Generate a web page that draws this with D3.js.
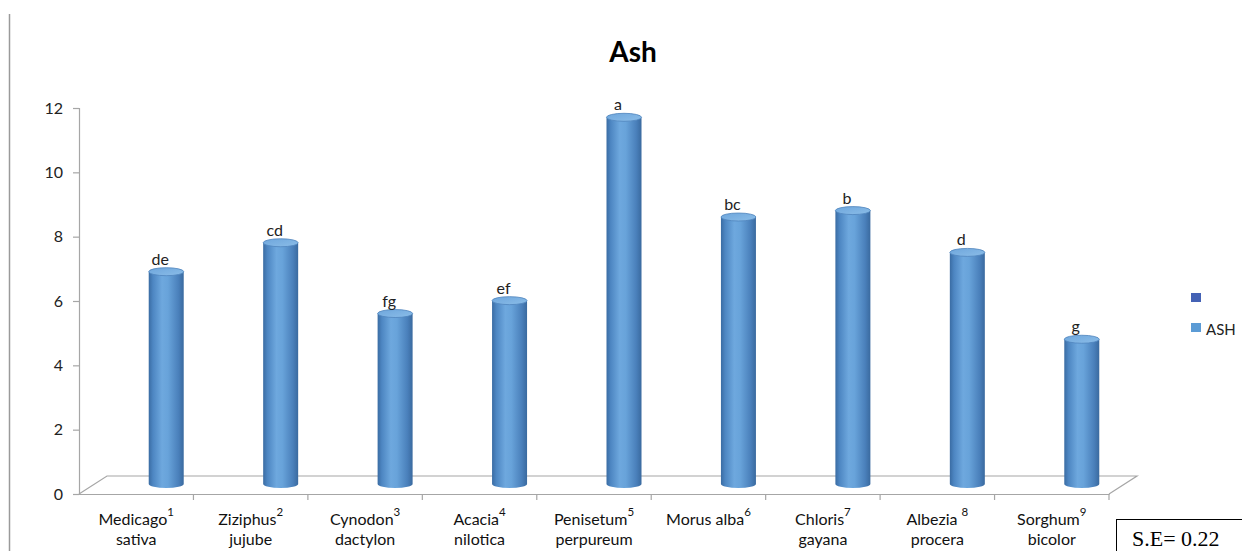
<!DOCTYPE html>
<html>
<head>
<meta charset="utf-8">
<script src="https://cdn.jsdelivr.net/npm/d3@7"></script>
<style>
  html, body { margin: 0; padding: 0; background: #fff; }
  svg { display: block; }
</style>
</head>
<body>
<svg id="chart" width="1242" height="551"></svg>
<script>
// Ash content by forage species
const species = ["Medicago sativa", "Ziziphus jujube", "Cynodon dactylon", "Acacia nilotica",
  "Penisetum perpureum", "Morus alba", "Chloris gayana", "Albezia procera", "Sorghum bicolor"];
const labelLine1 = ["Medicago", "Ziziphus", "Cynodon", "Acacia", "Penisetum", "Morus alba", "Chloris", "Albezia ", "Sorghum"];
const labelLine2 = ["sativa", "jujube", "dactylon", "nilotica", "perpureum", "", "gayana", "procera", "bicolor"];
const speciesNo = ["1", "2", "3", "4", "5", "6", "7", "8", "9"];
const ashValues = [6.6, 7.5, 5.3, 5.7, 11.4, 8.3, 8.5, 7.2, 4.5];
const groupLetters = ["de", "cd", "fg", "ef", "a", "bc", "b", "d", "g"];
const yTicks = [0, 2, 4, 6, 8, 10, 12];
const seTextValue = "S.E= 0.22";

const svg = d3.select("#chart");
const font = "Lato, 'Open Sans', 'Liberation Sans', sans-serif";

const x = d3.scaleBand().domain(species).range([79, 1109]).padding(0);
const y = d3.scaleLinear().domain([0, 12]).range([494, 108]);

// 3-D floor depth offset
const depthX = 28, depthY = 18;
// cylinders sit part-way back on the floor
const barShiftX = 30, barShiftY = 10;
const rx = 17.5, ry = 4;

// left page rule
svg.append("line").attr("x1", 9.5).attr("x2", 9.5).attr("y1", 14).attr("y2", 551)
  .attr("stroke", "#9a9a9a").attr("stroke-width", 1.5);

// title
svg.append("text").attr("x", 633).attr("y", 62).attr("text-anchor", "middle")
  .attr("font-family", font).attr("font-weight", "bold").attr("font-size", 28)
  .attr("fill", "#000").text("Ash");

// floor outline
const x0 = x.range()[0], x1 = x.range()[1], yb = y(0);
svg.append("path")
  .attr("d", `M${x0},${yb} L${x0 + depthX},${yb - depthY} L${x1 + depthX},${yb - depthY} L${x1},${yb}`)
  .attr("fill", "none").attr("stroke", "#a6a6a6").attr("stroke-width", 1.2);

// value axis
const yAxis = svg.append("g").attr("transform", `translate(${x0},0)`)
  .call(d3.axisLeft(y).tickValues(yTicks).tickSize(6).tickPadding(10).tickFormat(d3.format("d")));
yAxis.select(".domain").attr("stroke", "#a6a6a6").attr("stroke-width", 1.2);
yAxis.selectAll(".tick line").attr("stroke", "#a6a6a6").attr("stroke-width", 1.2);
yAxis.selectAll(".tick text").attr("font-family", font).attr("font-size", 16).attr("fill", "#222");

// category axis
const xAxis = svg.append("g").attr("transform", `translate(0,${yb})`)
  .call(d3.axisBottom(x).tickValues([]).tickSizeOuter(0));
xAxis.select(".domain").attr("stroke", "#a6a6a6").attr("stroke-width", 1.2);
const boundaries = species.map(s => x(s) + x.bandwidth());
svg.append("g").selectAll("line").data(boundaries).join("line")
  .attr("x1", d => d).attr("x2", d => d).attr("y1", yb).attr("y2", yb + 6)
  .attr("stroke", "#a6a6a6").attr("stroke-width", 1.2);

// category labels with species numbers
const labels = svg.append("g").selectAll("g").data(species).join("g");
labels.each(function (s, i) {
  const g = d3.select(this);
  const cx = x(s) + x.bandwidth() / 2;
  const t1 = g.append("text").attr("x", cx).attr("y", 525).attr("text-anchor", "middle")
    .attr("font-family", font).attr("font-size", 16).attr("fill", "#111");
  t1.append("tspan").text(labelLine1[i]);
  t1.append("tspan").attr("dy", -9).attr("font-size", 11.5).text(speciesNo[i]);
  if (labelLine2[i]) {
    g.append("text").attr("x", cx).attr("y", 545).attr("text-anchor", "middle")
      .attr("font-family", font).attr("font-size", 16).attr("fill", "#111").text(labelLine2[i]);
  }
});

// cylinder shading
const defs = svg.append("defs");
const bodyGrad = defs.append("linearGradient").attr("id", "cylBody").attr("x1", "0").attr("x2", "1").attr("y1", "0").attr("y2", "0");
[["0%", "#3a6ca3"], ["12%", "#4d86c2"], ["38%", "#6ea8de"], ["55%", "#68a3da"], ["85%", "#4a80bb"], ["100%", "#3a6a9f"]]
  .forEach(([o, c]) => bodyGrad.append("stop").attr("offset", o).attr("stop-color", c));
const capGrad = defs.append("linearGradient").attr("id", "cylTop").attr("x1", "0").attr("x2", "1").attr("y1", "0").attr("y2", "1");
[["0%", "#6ea6dc"], ["100%", "#8bbde8"]]
  .forEach(([o, c]) => capGrad.append("stop").attr("offset", o).attr("stop-color", c));

const bars = svg.append("g").selectAll("g").data(species).join("g");
bars.each(function (s, i) {
  const g = d3.select(this);
  const cx = x(s) + x.bandwidth() / 2 + barShiftX;
  const base = y(0) - barShiftY;
  const topY = y(ashValues[i]) - barShiftY;
  g.append("path")
    .attr("d", `M${cx - rx},${topY} L${cx - rx},${base} A${rx},${ry} 0 0 0 ${cx + rx},${base} L${cx + rx},${topY} Z`)
    .attr("fill", "url(#cylBody)");
  g.append("ellipse").attr("cx", cx).attr("cy", topY).attr("rx", rx).attr("ry", ry)
    .attr("fill", "url(#cylTop)").attr("stroke", "#4f84bd").attr("stroke-width", 0.8);
  g.append("text").attr("x", cx - 6).attr("y", topY - ry - 3).attr("text-anchor", "middle")
    .attr("font-family", font).attr("font-size", 16).attr("fill", "#222").text(groupLetters[i]);
});

// legend
const legend = svg.append("g");
legend.append("rect").attr("x", 1191).attr("y", 293).attr("width", 10).attr("height", 9).attr("fill", "#4462b5");
legend.append("rect").attr("x", 1191).attr("y", 323).attr("width", 10).attr("height", 9).attr("fill", "#5b9bd5");
legend.append("text").attr("x", 1206).attr("y", 335).attr("font-family", font).attr("font-size", 15)
  .attr("fill", "#222").text("ASH");

// standard error box
svg.append("rect").attr("x", 1116.5).attr("y", 519.5).attr("width", 140).attr("height", 40)
  .attr("fill", "#fff").attr("stroke", "#000").attr("stroke-width", 1);
svg.append("text").attr("x", 1132).attr("y", 546).attr("font-family", "'Liberation Serif', 'DejaVu Serif', serif")
  .attr("font-size", 22).attr("fill", "#000").text(seTextValue);
</script>
</body>
</html>
